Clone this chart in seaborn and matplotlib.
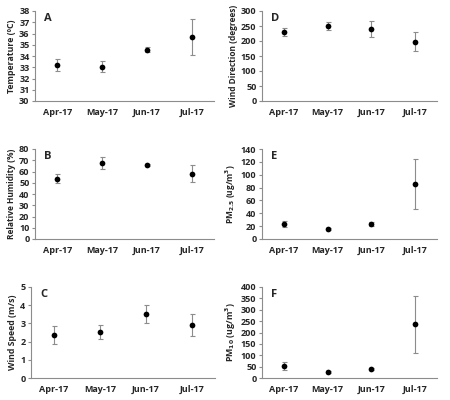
import matplotlib
matplotlib.use('Agg')
import matplotlib.pyplot as plt
import seaborn as sns
import pandas as pd
from matplotlib.ticker import FixedLocator

# dati
mesi = ['Apr-17', 'May-17', 'Jun-17', 'Jul-17']

temperatura = [33.2, 33.05, 34.57, 35.65]
temperatura_err = [0.55, 0.5, 0.25, 1.6]

umidita = [53.7, 67.8, 65.8, 58.1]
umidita_err = [4.0, 5.5, 1.0, 7.8]

velocita_vento = [2.36, 2.53, 3.53, 2.91]
velocita_vento_err = [0.5, 0.4, 0.5, 0.62]

direzione_vento = [229, 250, 239, 198]
direzione_vento_err = [14, 13, 27, 33]

pm25 = [23.5, 15.6, 23.4, 85.4]
pm25_err = [5, 2, 3, 38.5]

pm10 = [54, 25, 38, 236]
pm10_err = [17, 5, 5, 126]

sns.set_style('white')
plt.rcParams['font.family'] = ['Open Sans', 'DejaVu Sans']
plt.rcParams['font.weight'] = 'bold'
plt.rcParams['axes.labelweight'] = 'bold'

fig = plt.figure(figsize=(4.5, 4.0), dpi=100)
W, H = 450, 400


def crea_assi(sx, dx, alto, basso):
    return fig.add_axes([sx / W, 1 - basso / H, (dx - sx) / W, (basso - alto) / H])


pannelli = [
    # (lettera, valori, errori, etichetta y, ylim, passo, posizione)
    ('A', temperatura, temperatura_err, 'Temperature (ºC)', (30, 38), 1, (35, 214, 11, 101)),
    ('B', umidita, umidita_err, 'Relative Humidity (%)', (0, 80), 10, (35, 214, 149, 239)),
    ('C', velocita_vento, velocita_vento_err, 'Wind Speed (m/s)', (0, 5), 1, (31, 215, 287, 378)),
    ('D', direzione_vento, direzione_vento_err, 'Wind Direction (degrees)', (0, 300), 50, (262, 437, 11, 101)),
    ('E', pm25, pm25_err, 'PM$_{2.5}$ (ug/m$^3$)', (0, 140), 20, (262, 437, 149, 239)),
    ('F', pm10, pm10_err, 'PM$_{10}$ (ug/m$^3$)', (0, 400), 50, (262, 437, 287, 378)),
]

grigio = '#8c8c8c'

for lettera, valori, errori, etichetta, limiti, passo, pos in pannelli:
    ax = crea_assi(*pos)
    df = pd.DataFrame({'Mese': mesi, 'Valore': valori, 'Errore': errori})
    ax.errorbar(df['Mese'], df['Valore'], yerr=df['Errore'], fmt='none',
                ecolor=grigio, elinewidth=0.8, capsize=1.8, capthick=0.8, zorder=1)
    sns.scatterplot(data=df, x='Mese', y='Valore', color='black', s=17,
                    edgecolor='black', linewidth=0, ax=ax, zorder=3)
    ax.set_xlim(-0.5, 3.5)
    ax.set_ylim(*limiti)
    tick_y = list(range(limiti[0], limiti[1] + 1, passo))
    ax.set_yticks(tick_y)
    ax.set_xlabel('')
    ax.set_ylabel(etichetta, fontsize=6 if len(etichetta) > 20 else 6.3, labelpad=2)
    sns.despine(ax=ax)
    for lato in ['left', 'bottom']:
        ax.spines[lato].set_color(grigio)
        ax.spines[lato].set_linewidth(0.8)
    ax.xaxis.set_minor_locator(FixedLocator([-0.5, 0.5, 1.5, 2.5, 3.5]))
    ax.tick_params(axis='x', which='major', length=0, pad=5, labelsize=6.5)
    ax.tick_params(axis='x', which='minor', length=3, color=grigio, width=0.8, direction='out')
    ax.tick_params(axis='y', length=2.5, color=grigio, width=0.8, direction='out',
                   pad=1.5, labelsize=6.5, left=True)
    ax.text(0.05, 0.98, lettera, transform=ax.transAxes, fontsize=8,
            fontweight='bold', va='top', ha='left')

fig.savefig('out.png', dpi=100)
